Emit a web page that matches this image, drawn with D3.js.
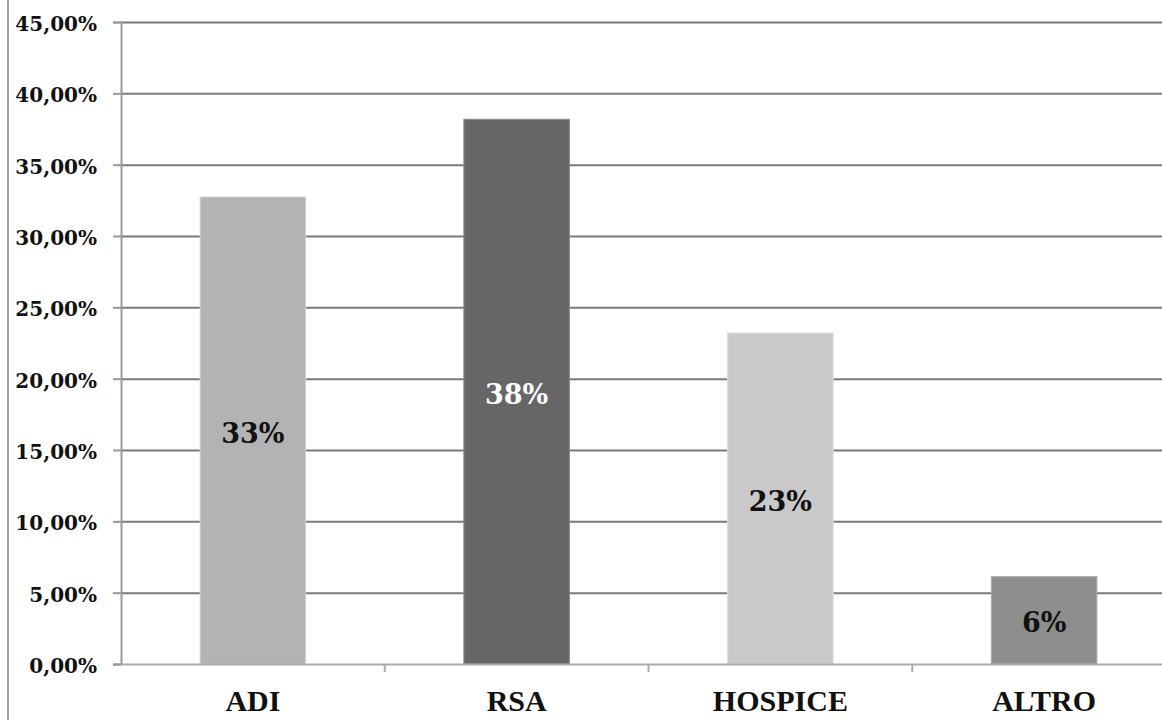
<!doctype html>
<html>
  <head>
    <meta charset="utf-8">
    <script src="https://d3js.org/d3.v7.min.js"></script>
    <style>
      body { margin: 0; background: #fff; }
      .grid line { stroke: #7a7a7a; stroke-width: 2; }
      .grid path { stroke-width: 0; }
    </style>
  </head>
  <body>
    <script>
    // data
    var categories = ['ADI', 'RSA', 'HOSPICE', 'ALTRO'];
    var values = [0.3273, 0.3818, 0.2320, 0.0612];
    var labels = ['33%', '38%', '23%', '6%'];
    var colors = ['#b3b3b3', '#666666', '#c9c9c9', '#8e8e8e'];
    var borders = ['#d2d2d2', '#8a8a8a', '#dcdcdc', '#a8a8a8'];
    var labelColors = ['#111', '#fff', '#111', '#111'];
    var yTicks = [0, 0.05, 0.10, 0.15, 0.20, 0.25, 0.30, 0.35, 0.40, 0.45];

    var width = 1162;
    var height = 720;

    var margin = { top: 22, left: 121, bottom: 56 };
    var plotRight = 1176; // plot runs past the window edge

    var svg = d3.select('body')
      .append('svg')
      .attr('width', width)
      .attr('height', height);

    // left frame line
    svg.append('line')
      .attr('x1', 8).attr('x2', 8)
      .attr('y1', 0).attr('y2', height)
      .attr('stroke', '#a0a0a0')
      .attr('stroke-width', 2);

    var x = d3.scaleBand()
      .domain(categories)
      .range([margin.left, plotRight])
      .paddingInner(0.6)
      .paddingOuter(0.3);

    var y = d3.scaleLinear()
      .domain([0, 0.45])
      .range([height - margin.bottom, margin.top]);

    var fmt = function(d) {
      return d3.format('.2f')(d * 100).replace('.', ',') + '%';
    };

    // gridlines
    svg.append('g')
      .attr('class', 'grid')
      .attr('transform', 'translate(' + margin.left + ',0)')
      .call(d3.axisLeft(y).tickValues(yTicks.slice(1)).tickSize(-(plotRight - margin.left)).tickFormat(''));

    // bars
    svg.selectAll('.bar')
      .data(values)
      .enter()
      .append('rect')
      .attr('class', 'bar')
      .attr('x', function(d, i) { return x(categories[i]); })
      .attr('y', function(d) { return y(d); })
      .attr('width', x.bandwidth())
      .attr('height', function(d) { return y(0) - y(d); })
      .attr('fill', function(d, i) { return colors[i]; })
      .attr('stroke', function(d, i) { return borders[i]; })
      .attr('stroke-width', 1);

    // bar value labels
    svg.selectAll('.val')
      .data(values)
      .enter()
      .append('text')
      .attr('class', 'val')
      .attr('x', function(d, i) { return x(categories[i]) + x.bandwidth() / 2; })
      .attr('y', function(d) { return (y(d) + y(0)) / 2 + 12; })
      .attr('text-anchor', 'middle')
      .attr('font-family', 'DejaVu Serif')
      .attr('font-weight', 'bold')
      .attr('font-size', '27px')
      .attr('fill', function(d, i) { return labelColors[i]; })
      .text(function(d, i) { return labels[i]; });

    // y axis
    var yAxis = svg.append('g')
      .attr('transform', 'translate(' + margin.left + ',0)')
      .call(d3.axisLeft(y).tickValues(yTicks).tickSize(8).tickPadding(16).tickFormat(fmt));
    yAxis.select('.domain').attr('stroke', '#999').attr('stroke-width', 2);
    yAxis.selectAll('.tick line').attr('stroke', '#999').attr('stroke-width', 2);
    yAxis.selectAll('.tick text')
      .attr('font-family', 'DejaVu Serif')
      .attr('font-weight', 'bold')
      .attr('font-size', '20px')
      .attr('fill', '#111')
      .attr('dy', '0.42em');

    // x axis
    var xAxis = svg.append('g')
      .attr('transform', 'translate(0,' + y(0) + ')')
      .call(d3.axisBottom(x).tickSize(0).tickPadding(26));
    xAxis.select('.domain').attr('stroke', '#aaa').attr('stroke-width', 2);
    xAxis.selectAll('.tick text')
      .attr('font-family', 'Liberation Serif')
      .attr('font-weight', 'bold')
      .attr('font-size', '30px')
      .attr('fill', '#111');

    // category separators between bands
    var gap = (x.step() - x.bandwidth()) / 2;
    svg.append('g')
      .selectAll('line')
      .data(categories.slice(1))
      .enter()
      .append('line')
      .attr('x1', function(d) { return x(d) - gap; })
      .attr('x2', function(d) { return x(d) - gap; })
      .attr('y1', y(0))
      .attr('y2', y(0) + 8)
      .attr('stroke', '#aaa')
      .attr('stroke-width', 2);
    </script>
  </body>
</html>
